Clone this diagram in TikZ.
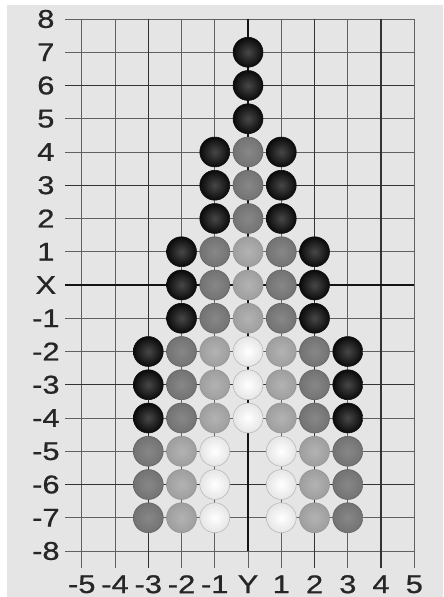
\documentclass[tikz,border=0pt]{standalone}
\usepackage{fontspec}
\newfontfamily\gridfont[FakeStretch=1.2, FakeBold=0.8]{Liberation Sans}

\begin{document}
\begin{tikzpicture}[x=1cm, y=1cm,
    gridline/.style={draw=black!62, line width=0.75pt},
    boldline/.style={draw=black!80, line width=1.0pt},
    axisline/.style={draw=black!92, line width=2.3pt},
    ticklabel/.style={font=\gridfont\fontsize{22}{22}\selectfont, text=black!85, inner sep=0pt},
    stone/.style={circle, minimum size=0.9cm, inner sep=0pt, line width=0.5pt},
    blackstone/.style={stone, draw=black!95, inner color=black!72, outer color=black!96},
    darkstone/.style={stone, draw=black!62, inner color=black!47, outer color=black!55},
    lightstone/.style={stone, draw=black!42, inner color=black!30, outer color=black!38},
    whitestone/.style={stone, draw=black!28, inner color=white, outer color=black!10}]

    % Frame
    \path[use as bounding box, fill=white] (-7.459,-9.383) rectangle (5.865,8.571);
    \fill[black!10] (-7.25,-9.383) rectangle (5.865,8.42);

    % Grid
    \foreach \y in {-8,...,8} {
        \draw[gridline] (-5.5,\y) -- (5,\y);
    }
    \foreach \x in {-5,...,5} {
        \draw[gridline] (\x,8) -- (\x,-8.5);
    }
    \foreach \y in {-6,-3,3,6} {
        \draw[boldline] (-5.5,\y) -- (5,\y);
    }
    \foreach \x in {-3,2,4} {
        \draw[boldline] (\x,8) -- (\x,-8.5);
    }

    % Axes
    \draw[axisline] (-5.5,0) -- (5,0);
    \draw[axisline] (0,8) -- (0,-8);

    % Stones
    \foreach \x/\y in {0/7,0/6,0/5,-1/4,1/4,-1/3,1/3,-1/2,1/2,
                       -2/1,2/1,-2/0,2/0,-2/-1,2/-1,-3/-2,3/-2,-3/-3,3/-3,-3/-4,3/-4} {
        \node[blackstone] (b\x y\y) at (\x,\y) {};
    }
    \foreach \x/\y in {0/4,0/3,0/2,-1/1,1/1,-1/0,1/0,-1/-1,1/-1,
                       -2/-2,2/-2,-2/-3,2/-3,-2/-4,2/-4,-3/-5,3/-5,-3/-6,3/-6,-3/-7,3/-7} {
        \node[darkstone] (d\x y\y) at (\x,\y) {};
    }
    \foreach \x/\y in {0/1,0/0,0/-1,-1/-2,1/-2,-1/-3,1/-3,-1/-4,1/-4,
                       -2/-5,2/-5,-2/-6,2/-6,-2/-7,2/-7} {
        \node[lightstone] (l\x y\y) at (\x,\y) {};
    }
    \foreach \x/\y in {0/-2,0/-3,0/-4,-1/-5,1/-5,-1/-6,1/-6,-1/-7,1/-7} {
        \node[whitestone] (w\x y\y) at (\x,\y) {};
    }

    % Y-axis labels
    \foreach \y in {-8,...,-1,1,2,...,8} {
        \node[ticklabel] (ylab\y) at (-6.08,\y) {\y};
    }
    \node[ticklabel] (ylabX) at (-6.08,0) {X};

    % X-axis labels
    \foreach \x in {-5,...,-1,1,2,...,5} {
        \node[ticklabel] (xlab\x) at (\x,-9.0) {\x};
    }
    \node[ticklabel] (xlabY) at (0,-9.0) {Y};
\end{tikzpicture}
\end{document}
